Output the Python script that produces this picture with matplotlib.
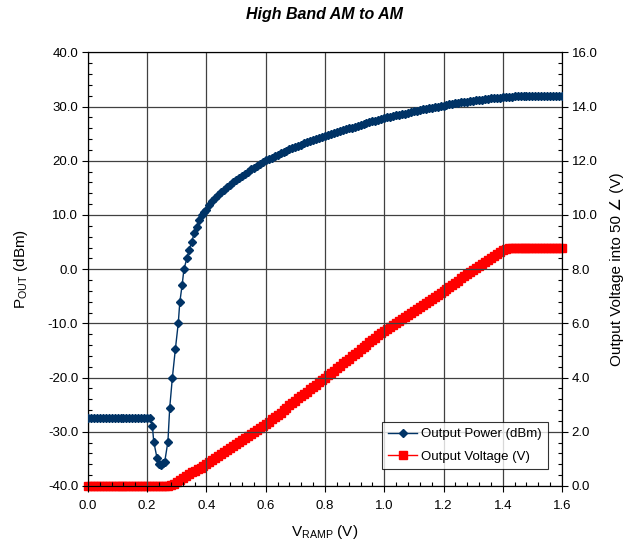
import numpy as np
import matplotlib
matplotlib.use("Agg")
import matplotlib.pyplot as plt
from matplotlib.ticker import MultipleLocator, FormatStrFormatter

plt.rcParams['font.family'] = ['Liberation Sans', 'DejaVu Sans']
plt.rcParams['mathtext.fontset'] = 'custom'
plt.rcParams['mathtext.rm'] = 'Liberation Sans'
plt.rcParams['axes.unicode_minus'] = False

# Output power (dBm) vs VRAMP
flat_x = [round(0.01 * i, 2) for i in range(22)]
flat_p = [-27.5] * 22
rise_x = [0.2175, 0.222, 0.233, 0.239, 0.245, 0.252, 0.259, 0.270, 0.276, 0.285,
          0.295, 0.305, 0.310, 0.318, 0.324, 0.334, 0.342, 0.350, 0.359, 0.367,
          0.376, 0.384, 0.392]
rise_p = [-28.9, -31.8, -34.8, -35.9, -36.2, -35.8, -35.6, -31.8, -25.6, -20.0,
          -14.8, -9.9, -6.1, -2.9, 0.0, 2.0, 3.6, 5.1, 6.6, 7.8,
          9.1, 10.0, 10.6]
main_x = [round(0.40 + 0.01 * i, 2) for i in range(121)]
main_p = [11.0, 11.8, 12.5, 13.1, 13.7, 14.2, 14.7, 15.2, 15.6, 16.0,
          16.4, 16.8, 17.2, 17.6, 18.0, 18.4, 18.7, 19.1, 19.4, 19.8,
          20.1, 20.3, 20.6, 20.9, 21.1, 21.4, 21.6, 21.9, 22.1, 22.4,
          22.6, 22.8, 23.0, 23.2, 23.4, 23.6, 23.8, 24.0, 24.2, 24.4,
          24.6, 24.8, 25.0, 25.1, 25.3, 25.5, 25.7, 25.8, 26.0, 26.1,
          26.3, 26.5, 26.6, 26.8, 26.9, 27.1, 27.3, 27.4, 27.6, 27.7,
          27.9, 28.0, 28.1, 28.3, 28.4, 28.5, 28.6, 28.7, 28.9, 29.0,
          29.1, 29.2, 29.3, 29.5, 29.6, 29.7, 29.8, 29.9, 30.0, 30.1,
          30.2, 30.3, 30.4, 30.5, 30.6, 30.7, 30.8, 30.9, 30.9, 31.0,
          31.1, 31.2, 31.2, 31.3, 31.4, 31.4, 31.5, 31.5, 31.6, 31.6,
          31.7, 31.7, 31.8, 31.8, 31.9, 31.9, 32.0, 32.0, 32.0, 32.0,
          32.0, 32.0, 32.0, 32.0, 32.0, 32.0, 32.0, 32.0, 32.0, 32.0,
          32.0]
power_x = flat_x + rise_x + main_x
power_dbm = flat_p + rise_p + main_p

# Output voltage (V) vs VRAMP, 0.01 V steps
volt_x = [round(0.01 * i, 2) for i in range(161)]
volt_v = [0.0] * 28 + [
    0.03, 0.08, 0.15, 0.23, 0.31, 0.38, 0.45, 0.50, 0.56, 0.62, 0.68, 0.74,
    0.80, 0.87, 0.94, 1.02, 1.09, 1.17, 1.24, 1.32, 1.39, 1.46,
    1.54, 1.61, 1.68, 1.76, 1.83, 1.91, 1.98, 2.06, 2.13, 2.21,
    2.28, 2.37, 2.46, 2.54, 2.63, 2.71, 2.80, 2.88, 2.97, 3.05,
    3.14, 3.23, 3.31, 3.40, 3.48, 3.57, 3.66, 3.74, 3.83, 3.91,
    4.00, 4.09, 4.17, 4.26, 4.35, 4.43, 4.52, 4.60, 4.69, 4.78,
    4.86, 4.95, 5.04, 5.12, 5.21, 5.30, 5.38, 5.47, 5.56, 5.64,
    5.73, 5.80, 5.88, 5.95, 6.02, 6.10, 6.17, 6.24, 6.32, 6.39,
    6.46, 6.54, 6.61, 6.68, 6.76, 6.83, 6.90, 6.98, 7.05, 7.13,
    7.20, 7.28, 7.35, 7.43, 7.50, 7.58, 7.66, 7.73, 7.81, 7.88,
    7.96, 8.04, 8.11, 8.19, 8.26, 8.34, 8.41, 8.49, 8.56, 8.63,
    8.70, 8.75, 8.78] + [8.80] * 18

fig = plt.figure(figsize=(6.28, 5.46), dpi=100)
ax = fig.add_axes([0.140, 0.110, 0.755, 0.794])
ax2 = ax.twinx()

navy = '#003366'
l1, = ax.plot(power_x, power_dbm, color=navy, lw=1, marker='D', ms=4.5,
              mec=navy, mfc=navy, label='Output Power (dBm)', zorder=4)
l2, = ax2.plot(volt_x, volt_v, color='red', lw=1, marker='s', ms=6,
               mec='red', mfc='red', label='Output Voltage (V)', clip_on=False, zorder=3)

ax.set_xlim(0, 1.6)
ax.set_ylim(-40, 40)
ax2.set_ylim(0, 16)

ax.xaxis.set_major_locator(MultipleLocator(0.2))
ax.xaxis.set_minor_locator(MultipleLocator(0.04))
ax.yaxis.set_major_locator(MultipleLocator(10))
ax.yaxis.set_minor_locator(MultipleLocator(2))
ax2.yaxis.set_major_locator(MultipleLocator(2))
ax2.yaxis.set_minor_locator(MultipleLocator(0.4))
ax.xaxis.set_major_formatter(FormatStrFormatter('%.1f'))
ax.yaxis.set_major_formatter(FormatStrFormatter('%.1f'))
ax2.yaxis.set_major_formatter(FormatStrFormatter('%.1f'))

for a in (ax, ax2):
    a.tick_params(which='major', direction='out', length=4, width=0.8,
                  labelsize=9.5, color='black')
    a.tick_params(which='minor', direction='in', length=3, width=0.8, color='black')
ax.tick_params(axis='y', pad=3)
ax.tick_params(axis='x', pad=6)
ax2.tick_params(axis='y', pad=3)

ax.grid(True, which='major', color='#404040', lw=0.9)
ax.set_axisbelow(True)

ax.set_xlabel(r'V$_{\mathrm{RAMP}}$ (V)', fontsize=11, labelpad=8)
ax.set_ylabel(r'P$_{\mathrm{OUT}}$ (dBm)', fontsize=11, labelpad=13)
ax2.set_ylabel('Output Voltage into 50 \u2220 (V)', fontsize=11, labelpad=9)
ax.set_title('High Band AM to AM', fontsize=11.5, fontweight='bold', style='italic', pad=24)

leg = ax.legend(handles=[l1, l2], loc='lower right', bbox_to_anchor=(0.984, 0.025),
                fontsize=9.5, frameon=True, fancybox=False, shadow=False,
                borderpad=0.45, handlelength=2.2, handletextpad=0.3, labelspacing=0.75)
leg.get_frame().set_edgecolor('black')
leg.get_frame().set_linewidth(0.8)
leg.set_zorder(10)
ax.set_zorder(ax2.get_zorder() + 1)
ax.patch.set_visible(False)

fig.savefig('out.png', dpi=100)
